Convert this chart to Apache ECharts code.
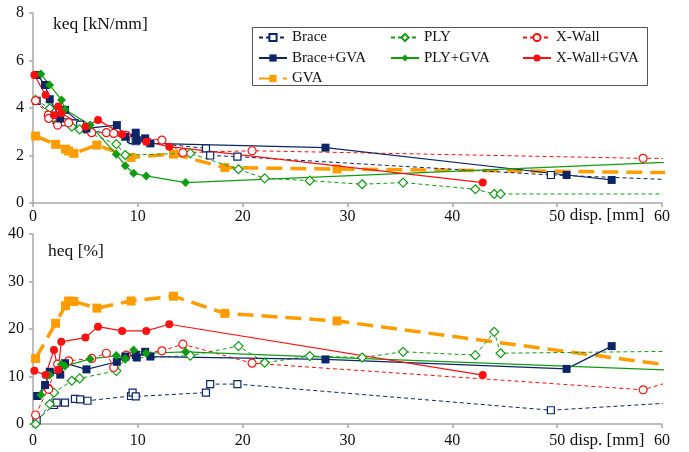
<!DOCTYPE html>
<html><head><meta charset="utf-8">
<script src="https://cdn.jsdelivr.net/npm/echarts@6/dist/echarts.min.js"></script>
<style>html,body{margin:0;padding:0;background:#fff}#c{width:689px;height:452px}</style>
</head><body><div id="c"></div>
<script>
// displacement [mm], keq [kN/mm], heq [%]
const xBrace = [0.35, 2.0, 2.25, 3.05, 4.0, 4.5, 5.2, 9.35, 9.5, 9.8, 16.5, 16.9, 19.5, 49.4, 65];
const kBrace = [4.3, 3.6, 3.5, 3.4, 3.35, 3.3, 3.1, 2.7, 2.65, 2.6, 2.3, 2.0, 1.95, 1.18, 0.91];
const hBrace = [0.8, 4.0, 4.5, 4.5, 5.3, 5.2, 4.9, 5.9, 6.6, 5.8, 6.6, 8.4, 8.4, 2.9, 5.0];

const xPLY = [0.25, 1.6, 2.0, 3.7, 4.45, 7.95, 8.8, 15.0, 19.6, 22.1, 26.4, 31.4, 35.3, 42.2, 44.0, 44.6, 65];
const kPLY = [4.34, 3.99, 3.6, 3.21, 3.1, 2.48, 2.02, 2.09, 1.42, 1.04, 0.94, 0.79, 0.86, 0.58, 0.38, 0.38, 0.38];
const hPLY = [0, 4.2, 6.6, 9.1, 9.6, 11.2, 13.8, 14.4, 16.4, 12.9, 14.3, 14.0, 15.2, 14.5, 19.4, 14.9, 15.4];

const xXW = [0.25, 1.46, 1.5, 2.35, 3.4, 5.6, 7.0, 7.7, 8.9, 12.3, 14.3, 20.9, 58.2, 62];
const kXW = [4.31, 3.7, 3.56, 3.28, 3.38, 2.96, 2.96, 2.93, 2.85, 2.65, 2.12, 2.2, 1.88, 1.88];
const hXW = [1.9, 7.5, 7.3, 12.6, 13.3, 13.8, 14.9, 11.9, 14.5, 15.4, 16.8, 12.8, 7.2, 9.7];

const xBG = [0.4, 1.15, 1.6, 2.6, 3.05, 5.1, 8.0, 8.8, 9.8, 9.9, 10.7, 11.2, 27.9, 50.9, 55.2];
const kBG = [5.39, 4.97, 4.37, 3.56, 3.92, 3.14, 3.28, 2.79, 2.96, 2.65, 2.72, 2.51, 2.33, 1.18, 0.97];
const hBG = [5.9, 8.2, 11.0, 10.4, 12.8, 11.5, 13.1, 14.2, 14.5, 14.0, 15.2, 14.2, 13.6, 11.6, 16.4];

const xPG = [0.75, 1.58, 2.72, 3.05, 5.45, 7.95, 8.8, 9.6, 10.8, 14.55, 65];
const kPG = [5.43, 4.97, 4.34, 3.94, 3.28, 2.05, 1.57, 1.25, 1.14, 0.86, 1.80];
const hPG = [6.1, 10.3, 12.6, 12.2, 13.7, 14.4, 13.8, 15.6, 14.9, 15.2, 11.0];

const xXG = [0.13, 1.2, 2.0, 2.4, 2.7, 5.0, 6.2, 8.5, 10.8, 13.0, 42.9];
const kXG = [5.39, 4.55, 3.7, 4.06, 3.78, 3.21, 3.5, 2.9, 2.58, 2.37, 0.86];
const hXG = [11.2, 10.3, 15.6, 11.4, 17.3, 18.2, 20.5, 19.6, 19.6, 21.0, 10.3];

const xGVA = [0.25, 2.16, 3.1, 3.4, 3.9, 6.1, 9.35, 13.4, 18.3, 29.0, 65];
const kGVA = [2.82, 2.47, 2.27, 2.19, 2.09, 2.44, 1.92, 2.06, 1.49, 1.43, 1.26];
const hGVA = [13.8, 21.2, 24.9, 25.9, 25.8, 24.4, 25.9, 26.9, 23.3, 21.7, 11.1];

const xTicks = [0, 10, 20, 30, 40, 50, 60];
const kTicks = [0, 2, 4, 6, 8];
const hTicks = [0, 10, 20, 30, 40];

const NAVY = '#0b2566', GREEN = '#109c10', RED = '#ff1010', ORANGE = '#ff9c00';
const FAM = 'Liberation Serif';
const FONT = '"Liberation Serif", serif';
const zip = (xs, ys) => xs.map((x, i) => [x, ys[i]]);

const defs = [
  {name: 'Brace', x: xBrace, k: kBrace, h: hBrace, c: NAVY, open: true, sym: 'rect', size: 7, dash: [4, 3], w: 1},
  {name: 'PLY', x: xPLY, k: kPLY, h: hPLY, c: GREEN, open: true, sym: 'diamond', size: 9, dash: [4, 3], w: 1},
  {name: 'X-Wall', x: xXW, k: kXW, h: hXW, c: RED, open: true, sym: 'circle', size: 8, dash: [4, 3], w: 1},
  {name: 'Brace+GVA', x: xBG, k: kBG, h: hBG, c: NAVY, open: false, sym: 'rect', size: 8, dash: 'solid', w: 1.2},
  {name: 'PLY+GVA', x: xPG, k: kPG, h: hPG, c: GREEN, open: false, sym: 'diamond', size: 9, dash: 'solid', w: 1.2},
  {name: 'X-Wall+GVA', x: xXG, k: kXG, h: hXG, c: RED, open: false, sym: 'circle', size: 8, dash: 'solid', w: 1.2},
  {name: 'GVA', x: xGVA, k: kGVA, h: hGVA, c: ORANGE, open: false, sym: 'rect', size: 9, dash: [16, 8], w: 3.5}
];

const series = [];
[0, 1].forEach(g => {
  defs.forEach(d => {
    series.push({
      name: d.name, type: 'line', xAxisIndex: g, yAxisIndex: g,
      data: zip(d.x, g === 0 ? d.k : d.h),
      symbol: d.sym, symbolSize: d.size, showAllSymbol: true, clip: true,
      lineStyle: {color: d.c, width: d.w, type: d.dash},
      itemStyle: {color: d.open ? '#ffffff' : d.c, borderColor: d.c, borderWidth: d.open ? 1.2 : 0},
      animation: false, z: d.name === 'GVA' ? 1 : 2
    });
  });
});

const rich = {t: {fontFamily: FAM, fontSize: 16, color: '#111'}};
const axisLineStyle = {axisLine: {show: true, lineStyle: {color: '#a8a8a8', width: 1.5}},
  axisTick: {show: true, length: 4, lineStyle: {color: '#a8a8a8', width: 1.5}},
  splitLine: {show: false}};

const xAxisDef = (g, margin) => Object.assign({}, axisLineStyle, {
  type: 'value', gridIndex: g, min: 0, max: 60, interval: 10,
  axisLabel: {margin: margin, fontFamily: FAM, fontSize: 16, color: '#111', rich: rich,
    formatter: v => xTicks.indexOf(v) >= 0 ? '{t|' + v + '}' : ''}
});
const yAxisDef = (g, max, interval, ticks) => Object.assign({}, axisLineStyle, {
  type: 'value', gridIndex: g, min: 0, max: max, interval: interval,
  axisLabel: {margin: 9, fontFamily: FAM, fontSize: 16, color: '#111', rich: rich,
    formatter: v => ticks.indexOf(v) >= 0 ? '{t|' + v + '}' : ''}
});

const legendCommon = {
  orient: 'vertical', itemWidth: 28, itemHeight: 9, itemGap: 5.5,
  textStyle: {fontFamily: FAM, fontSize: 15, color: '#111'},
  padding: 0, z: 6
};

const chart = echarts.init(document.getElementById('c'), null, {renderer: 'canvas'});
chart.setOption({
  backgroundColor: '#fff',
  animation: false,
  textStyle: {fontFamily: FAM},
  grid: [
    {left: 33, top: 13, width: 629, height: 190},
    {left: 33, top: 234, width: 629, height: 190}
  ],
  xAxis: [xAxisDef(0, 6), xAxisDef(1, 9)],
  yAxis: [yAxisDef(0, 8, 2, kTicks), yAxisDef(1, 40, 10, hTicks)],
  legend: [
    Object.assign({}, legendCommon, {left: 258, top: 30, data: ['Brace', 'Brace+GVA', 'GVA']}),
    Object.assign({}, legendCommon, {left: 390, top: 30, data: ['PLY', 'PLY+GVA']}),
    Object.assign({}, legendCommon, {left: 522, top: 30, data: ['X-Wall', 'X-Wall+GVA']})
  ],
  graphic: [
    {type: 'rect', shape: {x: 252.5, y: 27.5, width: 395, height: 58}, style: {fill: '#ffffff', stroke: '#555', lineWidth: 1}, z: 3},
    {type: 'text', left: 53, top: 15, style: {text: 'keq [kN/mm]', font: '17.5px ' + FONT, fill: '#111'}, z: 10},
    {type: 'text', left: 48, top: 242, style: {text: 'heq [%]', font: '17.5px ' + FONT, fill: '#111'}, z: 10},
    {type: 'text', x: 607, y: 216, style: {text: 'disp. [mm]', font: '17px ' + FONT, fill: '#111', align: 'center', verticalAlign: 'middle', backgroundColor: '#fff'}, z: 10},
    {type: 'text', x: 607, y: 441, style: {text: 'disp. [mm]', font: '17px ' + FONT, fill: '#111', align: 'center', verticalAlign: 'middle', backgroundColor: '#fff'}, z: 10}
  ],
  series: series
});
</script></body></html>
